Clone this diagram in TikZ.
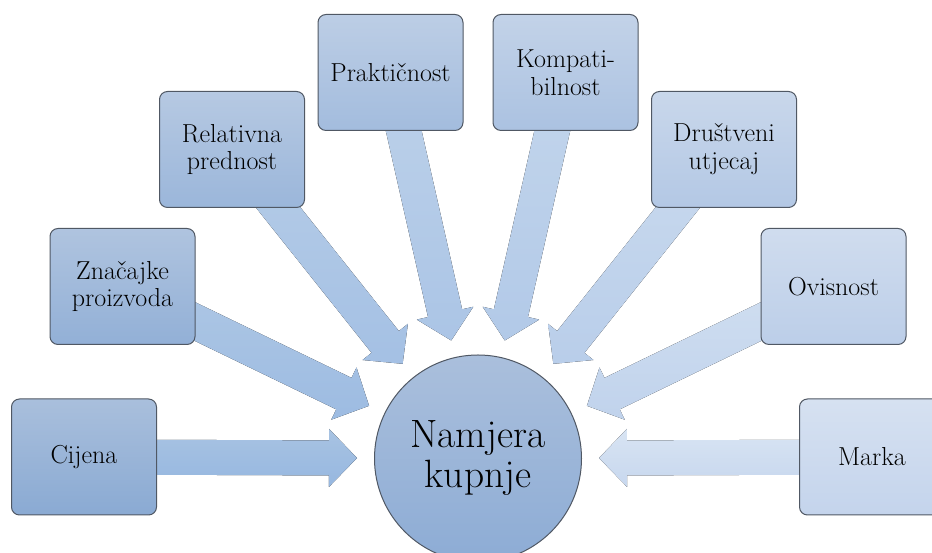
\documentclass[tikz,border=0pt]{standalone}
\usepackage{fontspec}
\usetikzlibrary{calc}
\definecolor{boxTopA}{RGB}{169,191,220}
\definecolor{boxBotA}{RGB}{138,170,211}
\definecolor{boxTopB}{RGB}{214,225,241}
\definecolor{boxBotB}{RGB}{196,212,236}
\definecolor{arrTopA}{RGB}{168,195,226}
\definecolor{arrBotA}{RGB}{150,183,224}
\definecolor{arrTopB}{RGB}{216,228,243}
\definecolor{arrBotB}{RGB}{199,215,238}
\definecolor{edgegray}{RGB}{80,88,100}
\definecolor{circTop}{RGB}{170,191,220}
\definecolor{circBot}{RGB}{141,172,213}
\tikzset{
  factor/.style={draw=edgegray, line width=1pt, rounded corners=8pt,
    minimum width=145pt, minimum height=116pt, align=center, inner sep=2pt,
    font=\rmfamily\fontsize{26}{27.7}\selectfont},
  goal/.style={circle, draw=edgegray, line width=1pt, minimum size=207pt,
    align=center, inner sep=0pt, top color=circTop, bottom color=circBot,
    font=\rmfamily\fontsize{39.5}{40}\selectfont}
}
\begin{document}
\begin{tikzpicture}[x=1pt,y=1pt]
\clip (0,0) rectangle (932,553);
\fill[white] (0,0) rectangle (932,553);
% circle centre and factor positions
\coordinate (cc) at (478,94.5);
\coordinate (p-cij) at (84,96);
\coordinate (p-zna) at (122.5,266.5);
\coordinate (p-rel) at (232,403.5);
\coordinate (p-pra) at (390.5,480.5);
\coordinate (p-kom) at (565.5,480.5);
\coordinate (p-dru) at (724,403.5);
\coordinate (p-ovi) at (833.5,266.5);
\coordinate (p-mar) at (872,96);
% arrows
\foreach \n/\p in {cij/0,zna/14,rel/29,pra/43,kom/57,dru/71,ovi/86,mar/100}{
  \coordinate (t-\n) at ($(cc)!121pt!(p-\n)$);
  \coordinate (h-\n) at ($(cc)!149pt!(p-\n)$);
  \fill[top color=arrTopB!\p!arrTopA, bottom color=arrBotB!\p!arrBotA]
    (t-\n) -- ($(h-\n)!29pt!90:(p-\n)$) -- ($(h-\n)!17.5pt!90:(p-\n)$)
    -- ($(p-\n)!17.5pt!-90:(cc)$) -- ($(p-\n)!17.5pt!90:(cc)$)
    -- ($(h-\n)!17.5pt!-90:(p-\n)$) -- ($(h-\n)!29pt!-90:(p-\n)$) -- cycle;
}
% factor boxes
\node[factor, top color=boxTopA, bottom color=boxBotA] (cij) at (p-cij) {Cijena};
\node[factor, top color=boxTopB!14!boxTopA, bottom color=boxBotB!14!boxBotA] (zna) at (p-zna) {Značajke\\proizvoda};
\node[factor, top color=boxTopB!29!boxTopA, bottom color=boxBotB!29!boxBotA] (rel) at (p-rel) {Relativna\\prednost};
\node[factor, top color=boxTopB!43!boxTopA, bottom color=boxBotB!43!boxBotA] (pra) at (p-pra) {Praktičnost};
\node[factor, top color=boxTopB!57!boxTopA, bottom color=boxBotB!57!boxBotA] (kom) at (p-kom) {Kompati-\\bilnost};
\node[factor, top color=boxTopB!71!boxTopA, bottom color=boxBotB!71!boxBotA] (dru) at (p-dru) {Društveni\\utjecaj};
\node[factor, top color=boxTopB!86!boxTopA, bottom color=boxBotB!86!boxBotA] (ovi) at (p-ovi) {Ovisnost};
\node[factor, top color=boxTopB, bottom color=boxBotB] (mar) at (p-mar) {Marka};
% central circle
\node[goal] (goal) at (cc) {Namjera\\kupnje};
\end{tikzpicture}
\end{document}
